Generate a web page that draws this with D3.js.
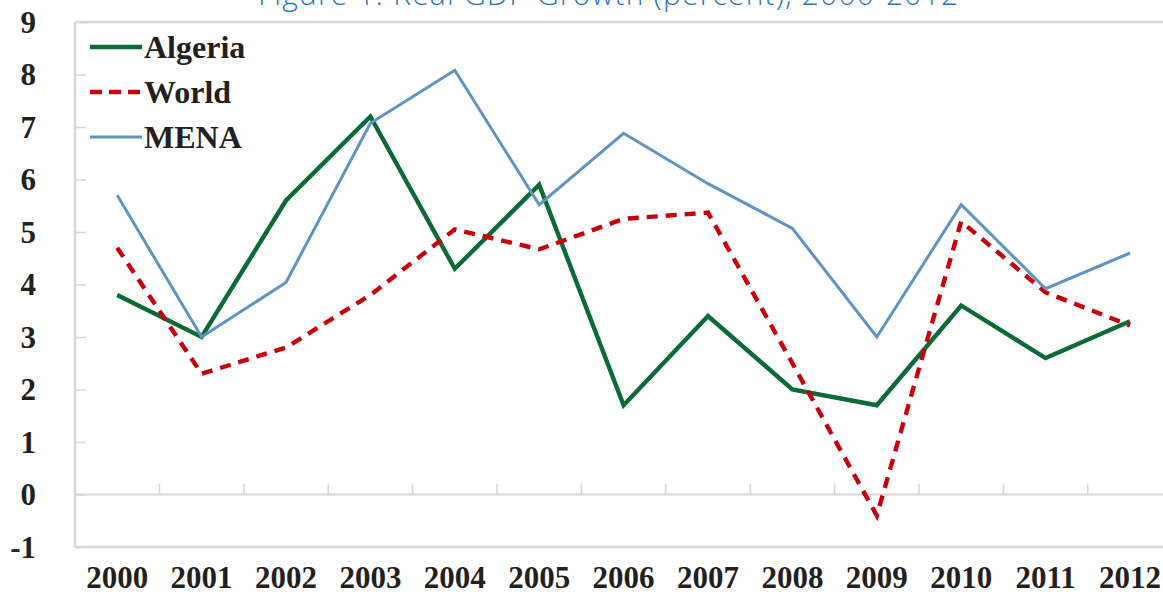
<!DOCTYPE html>
<html>
<head>
<meta charset="utf-8">
<script src="https://cdn.jsdelivr.net/npm/d3@7"></script>
<style>
  body { margin: 0; background: #fff; }
  .lbl { font-family: "Liberation Serif", serif; font-weight: bold; fill: #231f20; }
</style>
</head>
<body>
<div id="chart"></div>
<script>
// data
var years = ["2000","2001","2002","2003","2004","2005","2006","2007","2008","2009","2010","2011","2012"];
var algeria = [3.8, 3.0, 5.6, 7.2, 4.3, 5.9, 1.7, 3.4, 2.0, 1.7, 3.6, 2.6, 3.3];
var world   = [4.7, 2.3, 2.8, 3.8, 5.05, 4.67, 5.25, 5.37, 2.5, -0.4, 5.2, 3.85, 3.22];
var mena    = [5.7, 3.0, 4.04, 7.07, 8.08, 5.52, 6.88, 5.92, 5.07, 3.0, 5.52, 3.92, 4.6];
var yTicks  = [-1, 0, 1, 2, 3, 4, 5, 6, 7, 8, 9];

var series = [
  {name: "Algeria", values: algeria, color: "#0b6a36", width: 4.4, dash: null},
  {name: "World",   values: world,   color: "#c8000a", width: 4.4, dash: "11,8"},
  {name: "MENA",    values: mena,    color: "#5f93c2", width: 3, dash: null}
];

var W = 1163, H = 597;
var left = 75, step = 84.4;

var svg = d3.select("#chart").append("svg")
    .attr("width", W).attr("height", H);

var x = d3.scaleBand().domain(years).range([left, left + step * years.length]).padding(0);
var y = d3.scaleLinear().domain([-1, 9]).range([547, 22]);
var cx = function(d, i) { return x(years[i]) + x.bandwidth() / 2; };

// title (cut off at the top, as in the source)
svg.append("text")
    .attr("x", 608).attr("y", 5)
    .attr("text-anchor", "middle")
    .attr("textLength", 700)
    .style("font-family", "'Open Sans', sans-serif")
    .style("font-weight", 300)
    .style("font-size", "30px")
    .style("fill", "#2a76b5")
    .text("Figure 1. Real GDP Growth (percent), 2000-2012");

// plot border: top, left, bottom
var grey = "#d6d6d6";
svg.append("line").attr("x1", left).attr("x2", W).attr("y1", y(9)).attr("y2", y(9))
    .style("stroke", grey).style("stroke-width", 2.5);
svg.append("line").attr("x1", left).attr("x2", W).attr("y1", y(-1)).attr("y2", y(-1))
    .style("stroke", grey).style("stroke-width", 2.5);
svg.append("line").attr("x1", left).attr("x2", left).attr("y1", y(9)).attr("y2", y(-1))
    .style("stroke", grey).style("stroke-width", 2.5);

// y axis: inner ticks + labels
var yAxis = d3.axisRight(y).tickValues(yTicks).tickSize(11).tickFormat("");
var gy = svg.append("g").attr("transform", "translate(" + left + ",0)").call(yAxis);
gy.select(".domain").remove();
gy.selectAll("line").style("stroke", grey).style("stroke-width", 1.5);

svg.append("g").selectAll("text").data(yTicks).enter().append("text")
    .attr("class", "lbl")
    .attr("x", 36).attr("y", function(d) { return y(d); })
    .attr("dy", "0.35em")
    .attr("text-anchor", "end")
    .style("font-size", "31px")
    .text(function(d) { return d; });

// zero line with ticks between categories
var bounds = d3.range(1, years.length).map(function(i) { return left + step * i; });
svg.append("line").attr("x1", left).attr("x2", W).attr("y1", y(0)).attr("y2", y(0))
    .style("stroke", grey).style("stroke-width", 2);
svg.append("g").selectAll("line").data(bounds).enter().append("line")
    .attr("x1", function(d) { return d; }).attr("x2", function(d) { return d; })
    .attr("y1", y(0)).attr("y2", y(0) - 11)
    .style("stroke", grey).style("stroke-width", 1.5);

// x labels
var xAxis = d3.axisBottom(x).tickSize(0).tickPadding(0);
var gx = svg.append("g").attr("transform", "translate(0,566)").call(xAxis);
gx.select(".domain").remove();
gx.selectAll("text").attr("class", "lbl").attr("dy", "0.71em")
    .style("font-size", "31px").style("font-family", null);

// lines
var line = d3.line().x(cx).y(function(d) { return y(d); });
series.forEach(function(s) {
  svg.append("path").datum(s.values)
      .attr("d", line)
      .style("fill", "none")
      .style("stroke", s.color)
      .style("stroke-width", s.width)
      .style("stroke-dasharray", s.dash)
      .style("stroke-linejoin", "miter");
});

// legend
var leg = svg.append("g").selectAll("g").data(series).enter().append("g")
    .attr("transform", function(d, i) { return "translate(90," + (47 + i * 45) + ")"; });
leg.append("line")
    .attr("x1", 0).attr("x2", 52).attr("y1", 0).attr("y2", 0)
    .style("stroke", function(d) { return d.color; })
    .style("stroke-width", function(d) { return d.width; })
    .style("stroke-dasharray", function(d) { return d.dash ? "12,7" : null; });
leg.append("text")
    .attr("class", "lbl")
    .attr("x", 54).attr("y", 0).attr("dy", "0.35em")
    .style("font-size", "32px")
    .text(function(d) { return d.name; });
</script>
</body>
</html>
